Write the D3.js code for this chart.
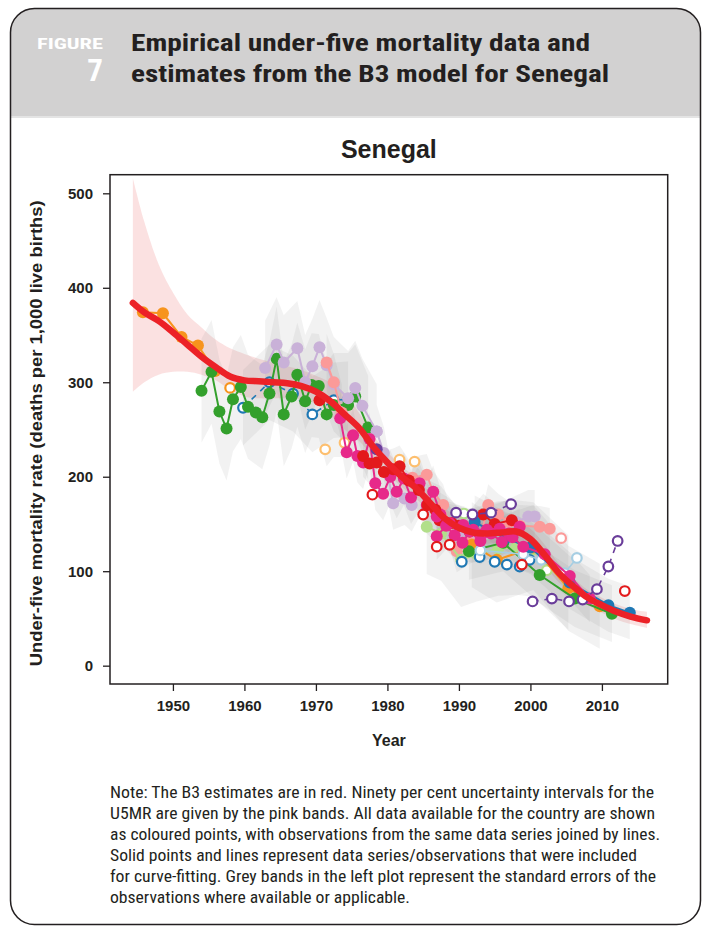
<!DOCTYPE html>
<meta charset="utf-8">
<head>
<style>
body { margin: 0; background: #fff; }
svg text { font-family: "Liberation Sans", Arial, sans-serif; }
.narrow { font-family: "Liberation Sans Narrow", "Roboto Condensed", "Liberation Sans", sans-serif !important; }
</style>
<script src="https://d3js.org/d3.v7.min.js"></script>
</head>
<body>
<div id="chart"></div>
<script>
var width = 705,
    height = 927;

// B3 estimate and 90% band
var estYears = [1944.4,1946,1948,1950,1952,1954,1956,1958,1960,1962,1964,1966,1968,1970,1972,1974,1976,1978,1980,1982,1984,1986,1988,1990,1992,1994,1996,1998,2000,2002,2004,2006,2008,2010,2012,2014,2016.3];
var estValues = [384,374,365,353,340,327,316,306,302,301,300,299,296,290,280,266,252,232,215,200,188,172,156,146,141,140,141,142,134,117,98,84,72,64,57,52,48];
var estUpper = [516,470,425,395,372,358,345,336,330,325,321,317,313,307,300,288,268,244,226,211,199,183,167,157,152,151,152,153,145,128,108,93,80,72,65,60,57];
var estLower = [290,300,308,311,311,308,302,292,285,283,283,283,282,277,265,250,238,221,204,189,177,161,145,135,130,129,130,131,123,106,88,75,64,56,49,44,40];

// observed data series [year, U5MR]
var orangeEarly = [[1945.8,374],[1948.6,373],[1951.2,348],[1953.5,339],[1955.9,312]];
var orangeOpen = [[1958.0,294]];
var greenA = [[1954.0,291],[1955.4,311],[1956.5,269],[1957.5,251],[1958.4,282],[1959.5,295],[1960.5,274],[1961.6,268],[1962.5,263],[1963.5,288],[1964.5,325],[1965.5,266],[1966.6,285],[1967.4,308],[1968.5,280],[1969.4,297],[1970.4,296],[1971.5,266],[1972.5,276],[1974.5,276],[1975.5,285],[1977.3,252]];
var lavenderA = [[1962.9,315],[1964.5,340],[1965.5,321],[1967.4,336],[1968.5,300],[1969.5,317],[1970.5,337],[1971.5,318],[1972.5,298],[1974.5,283],[1975.5,294],[1976.5,275],[1978.5,248]];
var blueOpenDashed = [[1959.8,273],[1963.5,300],[1966.8,288],[1969.5,266],[1972.5,281],[1974.5,282]];
var redSingle = [[1970.5,281]];
var salmonEarly = [[1971.5,321],[1972.5,300],[1973.6,268]];
var lightOrangeOpen = [[1971.3,229],[1974.0,236],[1981.7,218],[1983.8,216]];
var magentaA = [[1973.4,262],[1974.3,226],[1975.2,244],[1975.8,222],[1976.6,215],[1977.5,240],[1978.3,193],[1979.4,182],[1980.4,200],[1981.3,184],[1982.3,198],[1983.3,178],[1984.5,193],[1985.5,170],[1986.4,184],[1987.4,160]];
var redB = [[1976.6,222],[1977.5,214],[1978.5,215],[1979.5,205],[1980.8,208],[1981.7,211],[1983.0,196],[1984.4,186],[1985.6,170],[1986.7,165],[1987.3,154],[1989.0,151],[1990.0,148],[1991.5,142],[1993.4,160],[1995.0,150],[1997.4,154]];
var darkPurple = [[1978.5,229]];
var lavenderB = [[1978.5,248],[1979.5,225],[1980.8,172],[1982.4,177],[1983.4,170],[1984.5,186],[1985.5,168],[1987.0,157],[1988.5,150],[1990.0,140],[1992.0,137],[1994.0,140],[1996.0,145],[1998.0,152],[1999.7,158],[2000.6,158]];
var salmonB = [[1983.5,199],[1985.5,202],[1986.4,184],[1987.8,170],[1989.7,121],[1991.5,130],[1993.0,135],[1994.1,170],[1995.5,160],[1997.0,152],[1998.5,148],[2001.3,147],[2002.7,145]];
var salmonOpen = [[2004.3,135]];
var lightGreen = [[1985.5,147],[1987.5,140],[1990.3,112],[1992.5,118],[1995.5,124],[1998.0,125],[2000.4,123],[2005.3,88]];
var lightGreenOpen = [[1990.7,161],[2002.3,101]];
var orangeB = [[1991.8,128],[1995.3,112],[2000.4,125],[2005.3,82],[2009.7,63]];
var greenB = [[1991.4,121],[1996.2,130],[2001.3,96],[2006.2,71],[2011.4,55]];
var blueSolid = [[1992.2,152],[1996.5,135],[2000.0,125],[2005.5,88],[2010.9,64],[2013.9,56]];
var blueOpen = [[1990.4,110],[1992.9,115],[1995.0,110],[1996.7,107],[1998.5,105],[1999.9,112]];
var purpleOpen1 = [[1989.6,162],[1991.9,160],[1994.5,162],[1997.3,171]];
var purpleOpen2 = [[2000.3,68],[2003.0,71],[2005.4,68],[2007.3,70],[2009.3,81],[2010.9,105],[2012.2,132]];
var redOpen = [[1977.9,181],[1985.0,160],[1986.9,126],[1988.7,128],[1998.8,107],[2013.2,79]];
var lightBlueOpen = [[1993.0,122],[1999.0,118],[2001.5,112],[2004.8,98],[2006.5,114]];
var magentaB = [[1986.9,158],[1988.7,151],[1990.6,149],[1992.0,144],[1993.9,144],[1995.7,145],[1997.0,140],[1998.5,147]];
var magentaC = [[1986.9,137],[1988.2,148],[1989.4,138],[1990.5,130],[1991.5,142],[1993.0,132],[1994.5,140],[1996.0,131],[1997.5,136],[1999.0,126],[2002.0,118],[2005.5,95],[2008.3,71]];

// standard errors used for the grey bands (per series)
var seriesSE = {greenA: 55, lavenderA: 50, blueOpenDashed: 40, salmonEarly: 30, magentaA: 28, redB: 22,
  lavenderB: 28, salmonB: 22, lightGreen: 50, orangeB: 45, greenB: 30, blueSolid: 28, magentaB: 20, magentaC: 25};

var yTicks = [0, 100, 200, 300, 400, 500];
var xTicks = [1950, 1960, 1970, 1980, 1990, 2000, 2010];

var noteLines = [
  "Note: The B3 estimates are in red. Ninety per cent uncertainty intervals for the",
  "U5MR are given by the pink bands. All data available for the country are shown",
  "as coloured points, with observations from the same data series joined by lines.",
  "Solid points and lines represent data series/observations that were included",
  "for curve-fitting. Grey bands in the left plot represent the standard errors of the",
  "observations where available or applicable."
];
var noteWidths = [544, 545, 550, 527, 546, 300];

// series table: name, data, colour, filled?, line style
var series = [
  ["orangeEarly", orangeEarly, "#F7941D", true, "solid"],
  ["orangeOpen", orangeOpen, "#F7941D", false, "none"],
  ["blueOpenDashed", blueOpenDashed, "#1F78B4", false, "dashed"],
  ["greenA", greenA, "#33A02C", true, "solid"],
  ["lavenderA", lavenderA, "#C9B1D8", true, "solid"],
  ["salmonEarly", salmonEarly, "#FB9A99", true, "solid"],
  ["redSingle", redSingle, "#E31A1C", true, "none"],
  ["lightOrangeOpen", lightOrangeOpen, "#FDBF6F", false, "none"],
  ["lavenderB", lavenderB, "#C9B1D8", true, "solid"],
  ["salmonB", salmonB, "#FB9A99", true, "solid"],
  ["magentaA", magentaA, "#E7298A", true, "solid"],
  ["redB", redB, "#E31A1C", true, "solid"],
  ["darkPurple", darkPurple, "#6A3D9A", true, "none"],
  ["lightGreen", lightGreen, "#B2DF8A", true, "solid"],
  ["lightGreenOpen", lightGreenOpen, "#B2DF8A", false, "none"],
  ["orangeB", orangeB, "#F7941D", true, "solid"],
  ["greenB", greenB, "#33A02C", true, "solid"],
  ["blueOpen", blueOpen, "#1F78B4", false, "none"],
  ["lightBlueOpen", lightBlueOpen, "#A6CEE3", false, "solid"],
  ["blueSolid", blueSolid, "#1F78B4", true, "solid"],
  ["magentaB", magentaB, "#E7298A", true, "solid"],
  ["magentaC", magentaC, "#E7298A", true, "solid"],
  ["salmonOpen", salmonOpen, "#FB9A99", false, "none"],
  ["purpleOpen1", purpleOpen1, "#6A3D9A", false, "dashed"],
  ["purpleOpen2", purpleOpen2, "#6A3D9A", false, "dashed"],
  ["redOpen", redOpen, "#E31A1C", false, "none"]
];

var svg = d3.select("#chart").append("svg")
    .attr("width", width)
    .attr("height", height);

// frame + grey header
svg.append("clipPath").attr("id", "frameClip")
  .append("rect").attr("x", 10.5).attr("y", 8.5).attr("width", 690).attr("height", 916).attr("rx", 24);
svg.append("rect").attr("x", 0).attr("y", 0).attr("width", width).attr("height", 117)
    .attr("fill", "#d2d1d1").attr("clip-path", "url(#frameClip)");
svg.append("line").attr("x1", 10).attr("x2", 701).attr("y1", 117).attr("y2", 117)
    .attr("stroke", "#e4e4e4").attr("stroke-width", 2);
svg.append("rect").attr("x", 10.5).attr("y", 8.5).attr("width", 690).attr("height", 916).attr("rx", 24)
    .attr("fill", "none").attr("stroke", "#231f20").attr("stroke-width", 1.5);

svg.append("text").attr("class", "narrow").attr("x", 103).attr("y", 49).attr("text-anchor", "end")
    .attr("font-size", 15).attr("font-weight", "bold").attr("fill", "#fff")
    .attr("textLength", 66).attr("lengthAdjust", "spacingAndGlyphs").text("FIGURE");
svg.append("text").attr("class", "narrow").attr("x", 103).attr("y", 81).attr("text-anchor", "end")
    .attr("font-size", 31).attr("font-weight", "bold").attr("fill", "#fff").text("7");
svg.append("text").attr("class", "narrow").attr("x", 131).attr("y", 51)
    .attr("font-size", 23).attr("font-weight", "bold").attr("fill", "#231f20")
    .attr("textLength", 459).attr("lengthAdjust", "spacingAndGlyphs")
    .text("Empirical under-five mortality data and");
svg.append("text").attr("class", "narrow").attr("x", 131).attr("y", 82)
    .attr("font-size", 23).attr("font-weight", "bold").attr("fill", "#231f20")
    .attr("textLength", 478).attr("lengthAdjust", "spacingAndGlyphs")
    .text("estimates from the B3 model for Senegal");

// plot
var pLeft = 110, pRight = 667.7, pTop = 174.7, pBottom = 684;
var x = d3.scaleLinear().domain([1941.2, 2019.2]).range([pLeft, pRight]);
var y = d3.scaleLinear().domain([-19.4, 519.7]).range([pBottom, pTop]);

var plot = svg.append("g");
plot.append("clipPath").attr("id", "plotClip")
  .append("rect").attr("x", pLeft).attr("y", pTop).attr("width", pRight - pLeft).attr("height", pBottom - pTop);
var inner = plot.append("g").attr("clip-path", "url(#plotClip)");

var band = d3.area()
    .x(function(d, i) { return x(estYears[i]); })
    .y0(function(d, i) { return y(estLower[i]); })
    .y1(function(d, i) { return y(estUpper[i]); })
    .curve(d3.curveCatmullRom);
inner.append("path").datum(estYears).attr("d", band)
    .attr("fill", "#f29a9a").attr("fill-opacity", 0.3);

// grey standard error bands
var seArea = d3.area()
    .x(function(d) { return x(d[0]); })
    .y0(function(d) { return y(d[1] - d.se); })
    .y1(function(d) { return y(d[1] + d.se); });
series.forEach(function(s) {
  var se = seriesSE[s[0]];
  if (!se) return;
  var pts = s[1].map(function(p) { var q = [p[0], p[1]]; q.se = se; return q; });
  inner.append("path").datum(pts).attr("d", seArea)
      .attr("fill", "#8a8a8a").attr("fill-opacity", 0.11);
});

var line = d3.line().x(function(d) { return x(d[0]); }).y(function(d) { return y(d[1]); });

series.forEach(function(s) {
  var g = inner.append("g");
  if (s[4] !== "none" && s[1].length > 1) {
    g.append("path").datum(s[1]).attr("d", line)
        .attr("fill", "none").attr("stroke", s[2])
        .attr("stroke-width", s[3] ? 2 : 1.6)
        .attr("stroke-dasharray", s[4] === "dashed" ? "6,6" : null);
  }
  g.selectAll("circle").data(s[1]).enter().append("circle")
      .attr("cx", function(d) { return x(d[0]); })
      .attr("cy", function(d) { return y(d[1]); })
      .attr("r", s[3] ? 6 : 4.8)
      .attr("fill", s[3] ? s[2] : "#fff")
      .attr("stroke", s[2])
      .attr("stroke-width", s[3] ? 0 : 2.2);
});

var estLine = d3.line()
    .x(function(d, i) { return x(estYears[i]); })
    .y(function(d) { return y(d); })
    .curve(d3.curveCatmullRom);
inner.append("path").datum(estValues).attr("d", estLine)
    .attr("fill", "none").attr("stroke", "#ec2127").attr("stroke-width", 6.5)
    .attr("stroke-linecap", "round");

// box + axes
plot.append("rect").attr("x", pLeft).attr("y", pTop).attr("width", pRight - pLeft).attr("height", pBottom - pTop)
    .attr("fill", "none").attr("stroke", "#231f20").attr("stroke-width", 1.5);

var yAxis = plot.append("g").attr("transform", "translate(" + pLeft + ",0)")
    .call(d3.axisLeft(y).tickValues(yTicks).tickSize(7).tickPadding(10));
var xAxis = plot.append("g").attr("transform", "translate(0," + pBottom + ")")
    .call(d3.axisBottom(x).tickValues(xTicks).tickFormat(d3.format("d")).tickSize(7).tickPadding(9));
[yAxis, xAxis].forEach(function(a) {
  a.select(".domain").remove();
  a.selectAll("line").attr("stroke", "#231f20").attr("stroke-width", 1.3);
  a.selectAll("text").attr("font-size", 15).attr("font-weight", "bold").attr("fill", "#231f20")
      .style("font-family", "'Liberation Sans', Arial, sans-serif");
});

plot.append("text").attr("x", (pLeft + pRight) / 2).attr("y", 158).attr("text-anchor", "middle")
    .attr("font-size", 25).attr("font-weight", "bold").attr("fill", "#231f20").text("Senegal");
plot.append("text").attr("x", (pLeft + pRight) / 2).attr("y", 746).attr("text-anchor", "middle")
    .attr("font-size", 16).attr("font-weight", "bold").attr("fill", "#231f20").text("Year");
plot.append("text").attr("transform", "translate(42," + ((pTop + pBottom) / 2 + 4) + ") rotate(-90)")
    .attr("text-anchor", "middle").attr("font-size", 16).attr("font-weight", "bold").attr("fill", "#231f20")
    .attr("textLength", 466).attr("lengthAdjust", "spacingAndGlyphs")
    .text("Under-five mortality rate (deaths per 1,000 live births)");

// note
svg.append("g").selectAll("text").data(noteLines).enter().append("text")
    .attr("class", "narrow")
    .attr("x", 110)
    .attr("y", function(d, i) { return 798 + i * 21; })
    .attr("font-size", 16).attr("fill", "#231f20")
    .attr("textLength", function(d, i) { return noteWidths[i]; })
    .attr("lengthAdjust", "spacingAndGlyphs")
    .text(function(d) { return d; });
</script>
</body>
